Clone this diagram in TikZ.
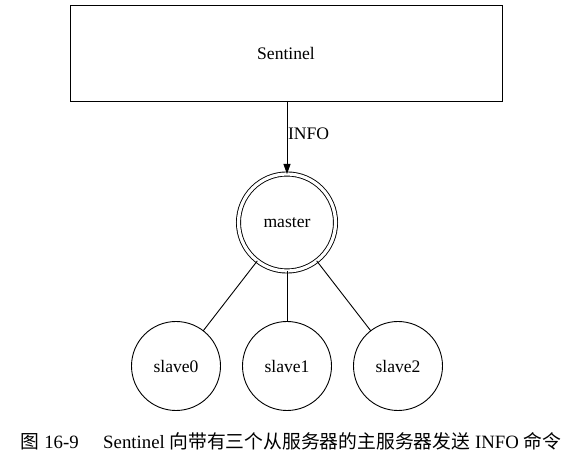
\documentclass[tikz,border=0pt]{standalone}
\usepackage{fontspec}
\setmainfont{Liberation Serif}
\newfontfamily\cjk{Noto Sans CJK SC}
\usetikzlibrary{arrows.meta}
\begin{document}
\begin{tikzpicture}[x=1pt,y=1pt,
  every node/.style={inner sep=0pt,outer sep=0pt},
  ln/.style={line width=0.9pt},
  slavenode/.style={circle,draw,ln,minimum size=89pt,font=\fontsize{17.6}{20}\selectfont},
  lbl/.style={font=\fontsize{17.6}{20}\selectfont}]
\useasboundingbox (0,0) rectangle (573,471);
\node[draw,ln,minimum width=432pt,minimum height=96pt,lbl] (sentinel) at (286,418) {Sentinel};
\node[circle,draw,ln,double,double distance=3.2pt,minimum size=97pt,lbl] (master) at (287,248.5) {master};
\node[slavenode] (s0) at (176,105) {slave0};
\node[slavenode] (s1) at (287,105) {slave1};
\node[slavenode] (s2) at (398,105) {slave2};
\draw[ln,-{Triangle[width=7pt,length=10pt]}] (sentinel.south -| master) -- (master.north) node[midway,right=1pt,lbl,yshift=4pt] (info) {INFO};
\draw[ln] (master) -- (s0);
\draw[ln] (master) -- (s1);
\draw[ln] (master) -- (s2);
\node[font=\fontsize{18.8}{21}\selectfont] (cap) at (291,30) {{\cjk 图} 16-9\hspace{1.3em}Sentinel {\cjk 向带有三个从服务器的主服务器发送} INFO {\cjk 命令}};
\end{tikzpicture}
\end{document}
